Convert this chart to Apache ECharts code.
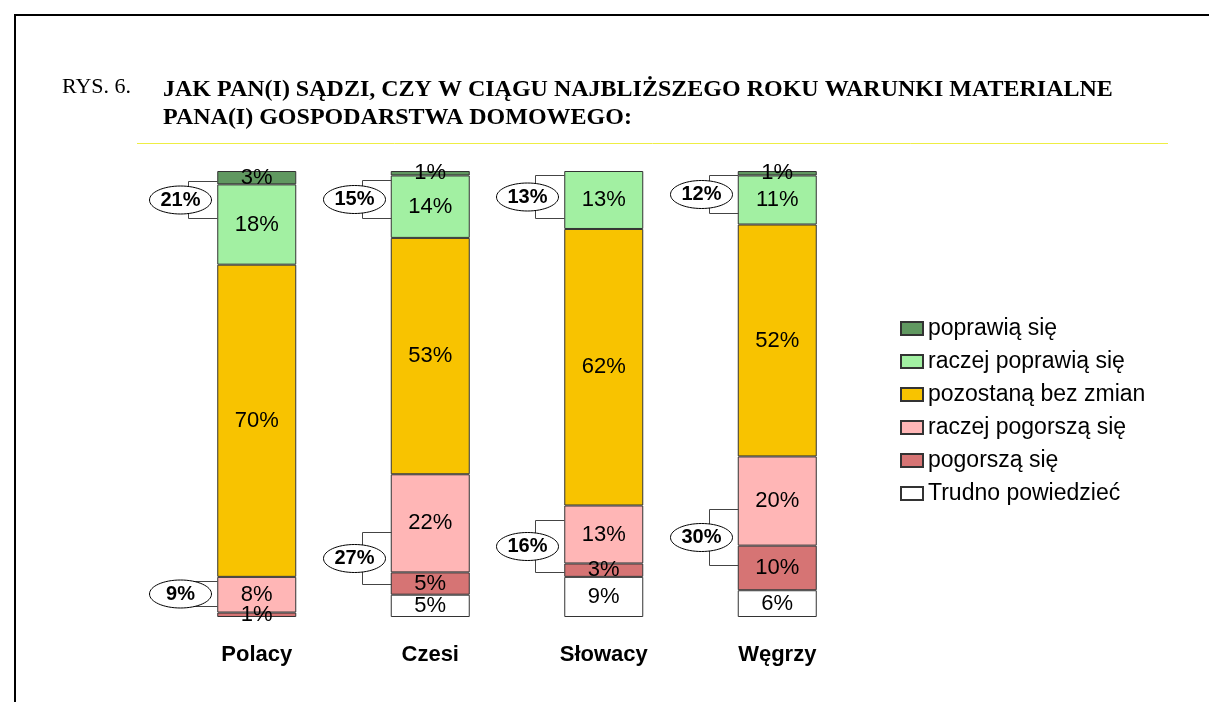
<!DOCTYPE html>
<html>
<head>
<meta charset="utf-8">
<script src="https://cdn.jsdelivr.net/npm/echarts@6/dist/echarts.min.js"></script>
<style>
  html, body { margin: 0; padding: 0; background: #fff; }
  #chart { width: 1209px; height: 702px; }
</style>
</head>
<body>
<div id="chart"></div>
<script>
// countries
const categories = ['Polacy', 'Czesi', 'Słowacy', 'Węgrzy'];

// answers in % (stacked from the bottom up)
const trudno = [null, 5, 9, 6];
const pogorsza = [1, 5, 3, 10];
const raczejPogorsza = [8, 22, 13, 20];
const pozostana = [70, 53, 62, 52];
const raczejPoprawia = [18, 14, 13, 11];
const poprawia = [3, 1, null, 1];

// bracket totals: [category index, from value, to value]
const bracketRanges = [
  [0, 97.8, 89.5], [0, 8.1, 2.5],
  [1, 98.0, 89.5], [1, 19.1, 7.4],
  [2, 99.1, 89.5], [2, 21.7, 10.1],
  [3, 99.1, 90.6], [3, 24.2, 11.7]
];
const bracketLabels = ['21%', '9%', '15%', '27%', '13%', '16%', '12%', '30%'];

const chart = echarts.init(document.getElementById('chart'));

const BAR_W = 79;

function barSeries(name, data, color) {
  return {
    name: name,
    type: 'bar',
    stack: 'all',
    data: data,
    barWidth: BAR_W,
    itemStyle: { color: color, borderColor: '#333', borderWidth: 1 },
    label: {
      show: true,
      position: 'inside',
      color: '#000',
      fontFamily: 'Liberation Sans, Arial',
      fontSize: 22,
      formatter: p => (p.value ? p.value + '%' : '')
    },
    emphasis: { disabled: true }
  };
}

const option = {
  animation: false,
  title: [
    {
      text: 'RYS. 6.',
      left: 57,
      top: 71,
      textStyle: { fontFamily: 'Liberation Serif', fontWeight: 'normal', fontSize: 22, color: '#000' }
    },
    {
      text: 'JAK PAN(I) SĄDZI, CZY W CIĄGU NAJBLIŻSZEGO ROKU WARUNKI MATERIALNE\nPANA(I) GOSPODARSTWA DOMOWEGO:',
      left: 158,
      top: 71,
      textStyle: { fontFamily: 'Liberation Serif', fontWeight: 'bold', fontSize: 24, color: '#000', lineHeight: 28 }
    }
  ],
  legend: {
    orient: 'vertical',
    left: 895,
    top: 312,
    itemWidth: 22,
    itemHeight: 13,
    itemGap: 10,
    icon: 'rect',
    selectedMode: false,
    data: ['poprawią się', 'raczej poprawią się', 'pozostaną bez zmian', 'raczej pogorszą się', 'pogorszą się', 'Trudno powiedzieć'],
    textStyle: { fontFamily: 'Liberation Sans, Arial', fontSize: 23, color: '#000', lineHeight: 23 }
  },
  grid: { left: 170, right: 345, top: 171, bottom: 85 },
  xAxis: {
    type: 'category',
    data: categories,
    axisLine: { show: false },
    axisTick: { show: false },
    axisLabel: { margin: 27, fontFamily: 'Liberation Sans, Arial', fontWeight: 'bold', fontSize: 22, color: '#000' }
  },
  yAxis: {
    type: 'value',
    min: 0,
    max: 100,
    show: false,
    splitLine: { show: false }
  },
  series: [
    barSeries('Trudno powiedzieć', trudno, '#ffffff'),
    barSeries('pogorszą się', pogorsza, '#d67474'),
    barSeries('raczej pogorszą się', raczejPogorsza, '#ffb6b6'),
    barSeries('pozostaną bez zmian', pozostana, '#f8c300'),
    barSeries('raczej poprawią się', raczejPoprawia, '#a2f0a2'),
    barSeries('poprawią się', poprawia, '#609860'),
    {
      type: 'custom',
      data: bracketRanges,
      encode: { x: 0, y: [1, 2] },
      silent: true,
      z: 5,
      renderItem: function (params, api) {
        const cat = api.value(0);
        const x = api.coord([cat, 0])[0];
        const yTop = Math.round(api.coord([cat, api.value(1)])[1]) + 0.5;
        const yBot = Math.round(api.coord([cat, api.value(2)])[1]) + 0.5;
        const barLeft = Math.round(x - BAR_W / 2) + 0.5;
        const bx = barLeft - 29;
        const cx = barLeft - 37;
        const cy = (yTop + yBot) / 2;
        return {
          type: 'group',
          children: [
            {
              type: 'polyline',
              shape: { points: [[barLeft, yTop], [bx, yTop], [bx, yBot], [barLeft, yBot]] },
              style: { stroke: '#444', fill: null, lineWidth: 1 }
            },
            {
              type: 'ellipse',
              shape: { cx: cx, cy: cy, rx: 31, ry: 14 },
              style: { fill: '#fff', stroke: '#000', lineWidth: 1 }
            },
            {
              type: 'text',
              style: {
                text: bracketLabels[params.dataIndex],
                x: cx,
                y: cy,
                align: 'center',
                verticalAlign: 'middle',
                fill: '#000',
                font: 'bold 20px "Liberation Sans", Arial'
              }
            }
          ]
        };
      }
    }
  ],
  graphic: [
    { type: 'line', shape: { x1: 14, y1: 15, x2: 1209, y2: 15 }, style: { stroke: '#000', lineWidth: 2 } },
    { type: 'line', shape: { x1: 15, y1: 14, x2: 15, y2: 702 }, style: { stroke: '#000', lineWidth: 2 } },
    { type: 'line', shape: { x1: 137, y1: 143.5, x2: 1168, y2: 143.5 }, style: { stroke: '#eeee44', lineWidth: 1 } }
  ]
};

chart.setOption(option);
</script>
</body>
</html>
